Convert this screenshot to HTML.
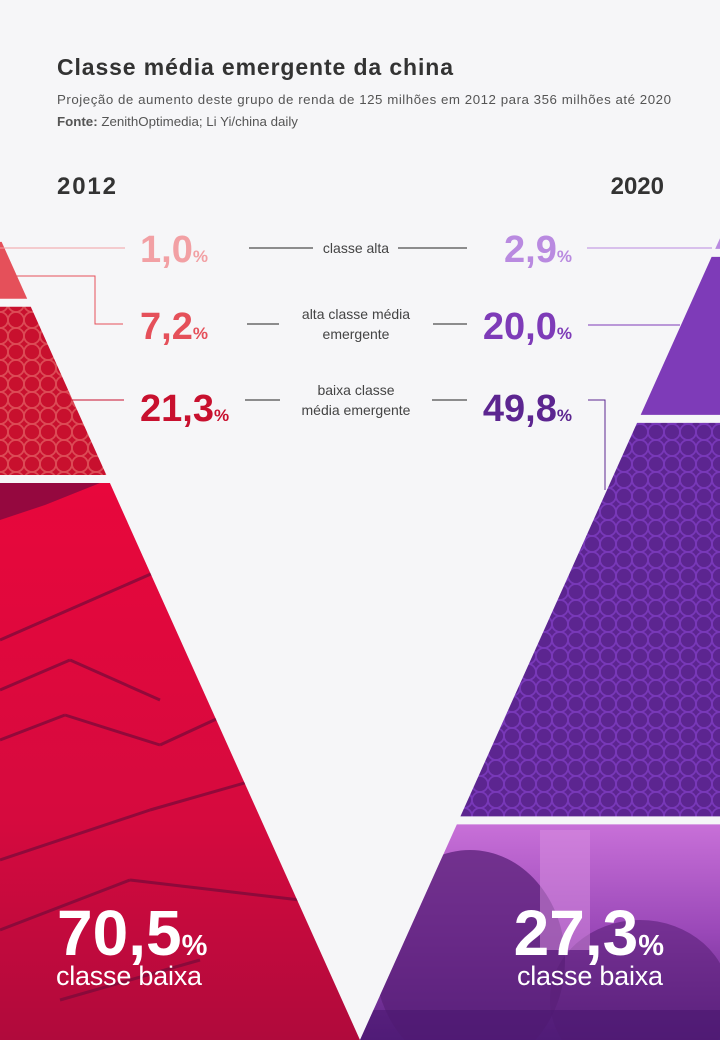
<!DOCTYPE html>
<html><head><meta charset="utf-8"><style>
html,body{margin:0;padding:0;background:#f6f6f8;}
body{width:720px;height:1040px;overflow:hidden;position:relative;font-family:"Liberation Sans",sans-serif;}
svg{position:absolute;left:0;top:0;}
</style></head><body>
<svg id="chart" width="720" height="1040" viewBox="0 0 720 1040">
<defs>
<pattern id="patRed" width="16" height="16" patternUnits="userSpaceOnUse">
<rect width="16" height="16" fill="#c8102e"/>
<circle cx="0" cy="0" r="8" fill="none" stroke="#dc4a55" stroke-width="1.8"/>
<circle cx="16" cy="0" r="8" fill="none" stroke="#dc4a55" stroke-width="1.8"/>
<circle cx="0" cy="16" r="8" fill="none" stroke="#dc4a55" stroke-width="1.8"/>
<circle cx="16" cy="16" r="8" fill="none" stroke="#dc4a55" stroke-width="1.8"/>
</pattern>
<pattern id="patPurple" width="16" height="16" patternUnits="userSpaceOnUse">
<rect width="16" height="16" fill="#5c2590"/>
<circle cx="0" cy="0" r="8" fill="none" stroke="#7838b8" stroke-width="1.8"/>
<circle cx="16" cy="0" r="8" fill="none" stroke="#7838b8" stroke-width="1.8"/>
<circle cx="0" cy="16" r="8" fill="none" stroke="#7838b8" stroke-width="1.8"/>
<circle cx="16" cy="16" r="8" fill="none" stroke="#7838b8" stroke-width="1.8"/>
</pattern>
<linearGradient id="gRed" x1="0" y1="0" x2="0" y2="1">
<stop offset="0" stop-color="#e8073c"/><stop offset="0.6" stop-color="#d60a3e"/><stop offset="1" stop-color="#b00a3c"/>
</linearGradient>
<linearGradient id="gPurple" x1="0" y1="0" x2="0" y2="1">
<stop offset="0" stop-color="#c870d8"/><stop offset="0.5" stop-color="#9a48b8"/><stop offset="1" stop-color="#5a2282"/>
</linearGradient>
</defs>
<g id="bands"></g>
<g id="photoDetail"></g>
<g id="labels"></g>
</svg>
<script>
const categories = ["classe alta", "alta classe média emergente", "baixa classe média emergente", "classe baixa"];
const values2012 = [1.0, 7.2, 21.3, 70.5];
const values2020 = [2.9, 20.0, 49.8, 27.3];
const labels2012 = ["1,0", "7,2", "21,3", "70,5"];
const labels2020 = ["2,9", "20,0", "49,8", "27,3"];

const NS = "http://www.w3.org/2000/svg";
const BOTTOM = 1040, GAP = 8, APEX = 360, SLOPE = 0.449;
const scaleY = 7.9;
const xl = y => APEX - (BOTTOM - y) * SLOPE;
const xr = y => APEX + (BOTTOM - y) * SLOPE;
function mk(tag, attrs, parent) {
  const el = document.createElementNS(NS, tag);
  for (const k in attrs) el.setAttribute(k, attrs[k]);
  parent.appendChild(el);
  return el;
}
function bandsFor(vals) {
  const out = []; let y = BOTTOM;
  for (let i = vals.length - 1; i >= 0; i--) { const h = vals[i] * scaleY; out[i] = [y - h, y]; y -= h + GAP; }
  return out;
}
const bandG = document.getElementById("bands");
const fillsL = ["#f2a0a4", "#e5505a", "url(#patRed)", "url(#gRed)"];
const fillsR = ["#b98ae0", "#7e3bb8", "url(#patPurple)", "url(#gPurple)"];
const b12 = bandsFor(values2012), b20 = bandsFor(values2020);
b12.forEach((b, i) => {
  const p = mk("polygon", {points: `-50,${b[0]} ${xl(b[0])},${b[0]} ${xl(b[1])},${b[1]} -50,${b[1]}`, fill: fillsL[i]}, bandG);
  
  
});
b20.forEach((b, i) => {
  const p = mk("polygon", {points: `770,${b[0]} ${xr(b[0])},${b[0]} ${xr(b[1])},${b[1]} 770,${b[1]}`, fill: fillsR[i]}, bandG);
  
  
});

const pd = document.getElementById("photoDetail");
const lb = b12[3], rb = b20[3];
const cl = mk("clipPath", {id: "clipL"}, pd);
mk("polygon", {points: `0,${lb[0]} ${xl(lb[0])},${lb[0]} ${APEX},${BOTTOM} 0,${BOTTOM}`}, cl);
const cr = mk("clipPath", {id: "clipR"}, pd);
mk("polygon", {points: `720,${rb[0]} ${xr(rb[0])},${rb[0]} ${APEX},${BOTTOM} 720,${BOTTOM}`}, cr);
const gl = mk("g", {"clip-path": "url(#clipL)", stroke: "#7a0a3a", "stroke-width": "3", fill: "none", opacity: "0.75"}, pd);


mk("polygon", {points: `0,${lb[0]} 100,${lb[0]} 45,505 0,520`, fill: "#7a0a40", stroke: "none"}, gl);
[[0,640,160,570],[0,690,70,660],[70,660,160,700],[0,740,65,715],[65,715,160,745],[160,745,290,685],[0,860,150,810],[150,810,290,770],[0,930,130,880],[130,880,300,900],[60,1000,200,960]].forEach(s=>mk("line",{x1:s[0],y1:s[1],x2:s[2],y2:s[3]},gl));
const gr = mk("g", {"clip-path": "url(#clipR)"}, pd);


mk("ellipse", {cx: 470, cy: 960, rx: 95, ry: 110, fill: "#5a2078", opacity: "0.75"}, gr);
mk("ellipse", {cx: 640, cy: 1000, rx: 90, ry: 80, fill: "#5a2078", opacity: "0.6"}, gr);
mk("rect", {x: 540, y: 830, width: 50, height: 120, fill: "#d890e0", opacity: "0.5"}, gr);
mk("rect", {x: 360, y: 1010, width: 360, height: 30, fill: "#4a1870", opacity: "0.6"}, gr);

const lg = document.getElementById("labels");
function txt(x, y, s, attrs, name) {
  const t = mk("text", Object.assign({x: x, y: y}, attrs), lg);
  t.textContent = s;
  
  
  return t;
}
function val(x, y, s, color, size, anchor, name) {
  const t = mk("text", {x: x, y: y, fill: color, "font-weight": "bold", "font-size": size, "text-anchor": anchor, "font-family": "Liberation Sans, sans-serif"}, lg);
  
  
  t.appendChild(document.createTextNode(s));
  const ts = document.createElementNS(NS, "tspan");
  ts.setAttribute("font-size", Math.round(size * 0.45));
  ts.textContent = "%";
  t.appendChild(ts);
}
txt(57, 75, "Classe média emergente da china", {"font-size": 23, "font-weight": "bold", fill: "#333", textLength: 396}, "chart-title");
txt(57, 104, "Projeção de aumento deste grupo de renda de 125 milhões em 2012 para 356 milhões até 2020", {"font-size": 13.3, fill: "#555", textLength: 614}, "chart-subtitle");
const src = txt(57, 126, "", {"font-size": 13.3, fill: "#555"}, "chart-source");
src.innerHTML = '<tspan font-weight="bold">Fonte:</tspan> ZenithOptimedia; Li Yi/china daily';
txt(57, 194, "2012", {"font-size": 24, "font-weight": "bold", fill: "#333", textLength: 59}, "year-2012");
txt(664, 194, "2020", {"font-size": 24, "font-weight": "bold", fill: "#333", "text-anchor": "end"}, "year-2020");

const rowsY = [262, 339, 421];
const colL = ["#f2a0a4", "#e5505a", "#c8102e"];
const colR = ["#b98ae0", "#7e3bb8", "#5c2590"];
for (let i = 0; i < 3; i++) {
  val(140, rowsY[i], labels2012[i], colL[i], 38, "start", "value-2012-" + i);
  val(572, rowsY[i], labels2020[i], colR[i], 38, "end", "value-2020-" + i);
}
txt(356, 253, "classe alta", {"font-size": 14, fill: "#444", "text-anchor": "middle"}, "label-classe-alta");
txt(356, 319, "alta classe média", {"font-size": 14, fill: "#444", "text-anchor": "middle"}, "label-alta-classe-media-1");
txt(356, 339, "emergente", {"font-size": 14, fill: "#444", "text-anchor": "middle"}, "label-alta-classe-media-2");
txt(356, 395, "baixa classe", {"font-size": 14, fill: "#444", "text-anchor": "middle"}, "label-baixa-classe-media-1");
txt(356, 415, "média emergente", {"font-size": 14, fill: "#444", "text-anchor": "middle"}, "label-baixa-classe-media-2");
function ln(pts, c, name) {
  const p = mk("polyline", {points: pts, fill: "none", stroke: c, "stroke-width": 1}, lg);
  
  
}
ln("249,248 313,248", "#222", "connector"); ln("398,248 467,248", "#222", "connector");
ln("247,324 279,324", "#222", "connector"); ln("433,324 467,324", "#222", "connector");
ln("245,400 280,400", "#222", "connector"); ln("432,400 467,400", "#222", "connector");
ln("0,248 125,248", "#f2a0a4", "leader-2012-0");
ln("15,276 95,276 95,324 123,324", "#e5505a", "leader-2012-1");
ln("70,400 124,400", "#c8102e", "leader-2012-2");
ln("587,248 712,248", "#b98ae0", "leader-2020-0");
ln("588,325 680,325", "#7e3bb8", "leader-2020-1");
ln("588,400 605,400 605,490", "#5c2590", "leader-2020-2");

val(57, 955, labels2012[3], "#fff", 64, "start", "value-2012-classe-baixa");
txt(56, 985, "classe baixa", {"font-size": 27, fill: "#fff", textLength: 146}, "label-2012-classe-baixa");
val(664, 955, labels2020[3], "#fff", 64, "end", "value-2020-classe-baixa");
txt(517, 985, "classe baixa", {"font-size": 27, fill: "#fff", textLength: 146}, "label-2020-classe-baixa");
</script>
</body></html>
